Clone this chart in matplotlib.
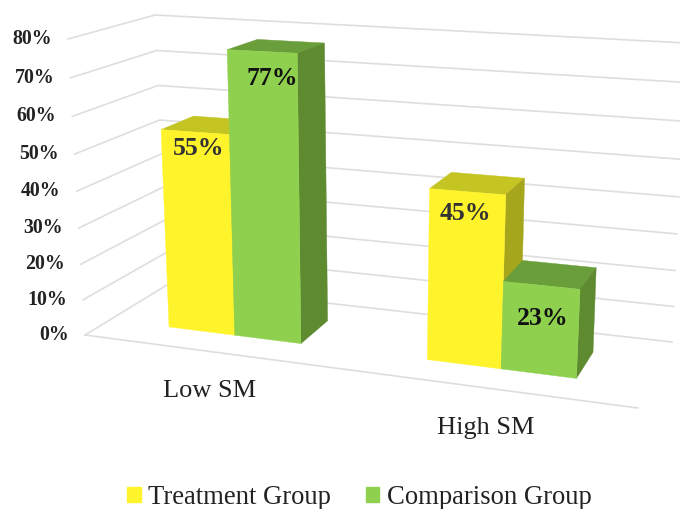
import matplotlib
matplotlib.use("Agg")
import numpy as np
import matplotlib.pyplot as plt
from matplotlib.patches import Polygon, Patch

### chart values
groups = ["Low SM", "High SM"]
series = ["Treatment Group", "Comparison Group"]
treatment = [55, 45]
comparison = [77, 23]
ticks = [0, 10, 20, 30, 40, 50, 60, 70, 80]
vmax = 80.

### corners of the fake 3D box in picture pixels: floor then top
### order is front-left, back-left, back-right, front-right
floor_box = np.array([[85, 335], [167, 285], [672, 342], [638, 408]], float)
top_box = np.array([[68, 39], [155, 15], [686, 43], [657, 66]], float)
persp = 0.06

### bar footprint across (u) and in depth (v)
u_left = [0.109, 0.589]
u_mid = [0.231, 0.726]
u_right = [0.354, 0.866]
v_front, v_back = 0.31, 0.72

yellow = dict(front="#FFF42B", top="#C4C422", side="#A6A61C")
green = dict(front="#8FD14F", top="#6A9E3A", side="#5E8A30")


def bilin(box, u, v):
    a = box[0] * (1 - u) + box[3] * u
    b = box[1] * (1 - u) + box[2] * u
    return a * (1 - v) + b * v


def project(u, v, val):
    h = val / vmax
    h = h / (1 + persp * (1 - h))
    return bilin(floor_box, u, v) * (1 - h) + bilin(top_box, u, v) * h


def draw_bar(ax, u0, u1, val, cols, z):
    f = [project(u0, v_front, 0), project(u1, v_front, 0), project(u1, v_front, val), project(u0, v_front, val)]
    s = [project(u1, v_front, 0), project(u1, v_back, 0), project(u1, v_back, val), project(u1, v_front, val)]
    t = [project(u0, v_front, val), project(u1, v_front, val), project(u1, v_back, val), project(u0, v_back, val)]
    ax.add_patch(Polygon(t, fc=cols["top"], ec=cols["top"], lw=0.3, zorder=z))
    ax.add_patch(Polygon(s, fc=cols["side"], ec=cols["side"], lw=0.3, zorder=z))
    ax.add_patch(Polygon(f, fc=cols["front"], ec=cols["front"], lw=0.3, zorder=z + 0.1))


fig = plt.figure(figsize=(6.8, 5.09), dpi=100)
ax = fig.add_axes([0, 0, 1, 1])
ax.set_xlim(0, 680)
ax.set_ylim(509, 0)
ax.axis("off")

serif = "Liberation Serif"
grid = "#DEDEDE"

### walls and floor
for t in ticks:
    pts = np.array([project(0, 0, t), project(0, 1, t), project(1, 1, t)])
    ax.plot(pts[:, 0], pts[:, 1], color=grid, lw=1.2, zorder=1)
    p = project(0, 0, t)
    ax.text(p[0] - 16, p[1], "%d%%" % t, ha="right", va="center", family=serif,
            weight="bold", fontsize=14.3, color="#222222")
pts = np.array([project(0, 0, 0), project(1, 0, 0)])
ax.plot(pts[:, 0], pts[:, 1], color=grid, lw=1.2, zorder=1)

### bars, left group first
for i in range(len(groups)):
    draw_bar(ax, u_left[i], u_mid[i], treatment[i], yellow, 2 + i)
    draw_bar(ax, u_mid[i], u_right[i], comparison[i], green, 2.5 + i)

### data labels, offset from the bar top
label_off = [((3, 16), (10, 27)), ((-2, 22), (1, 33))]
label_col = ["#333333", "#111111"]
for i in range(len(groups)):
    bars = ((u_left[i], u_mid[i], treatment[i]), (u_mid[i], u_right[i], comparison[i]))
    for j, (u0, u1, val) in enumerate(bars):
        p = project((u0 + u1) / 2, v_front, val)
        ax.text(p[0] + label_off[i][j][0], p[1] + label_off[i][j][1], "%d%%" % val, ha="center", va="center",
                family=serif, weight="bold", fontsize=18.5, color=label_col[j], zorder=10)

### category labels under the floor
for g, u in zip(groups, [0.225, 0.725]):
    p = project(u, 0, 0)
    ax.text(p[0], p[1] + 40, g, ha="center", va="center", family=serif, fontsize=19, color="#222222")

handles = [Patch(color=yellow["front"], label=series[0]), Patch(color=green["front"], label=series[1])]
ax.legend(handles=handles, loc="center", bbox_to_anchor=(0.5285, 0.023), ncol=2, frameon=False,
          prop=dict(family=serif, size=19.2), labelcolor="#222222", handlelength=0.5, handleheight=0.5,
          handletextpad=0.27, columnspacing=1.32, borderpad=0, borderaxespad=0)

fig.savefig("out.png", dpi=100)
